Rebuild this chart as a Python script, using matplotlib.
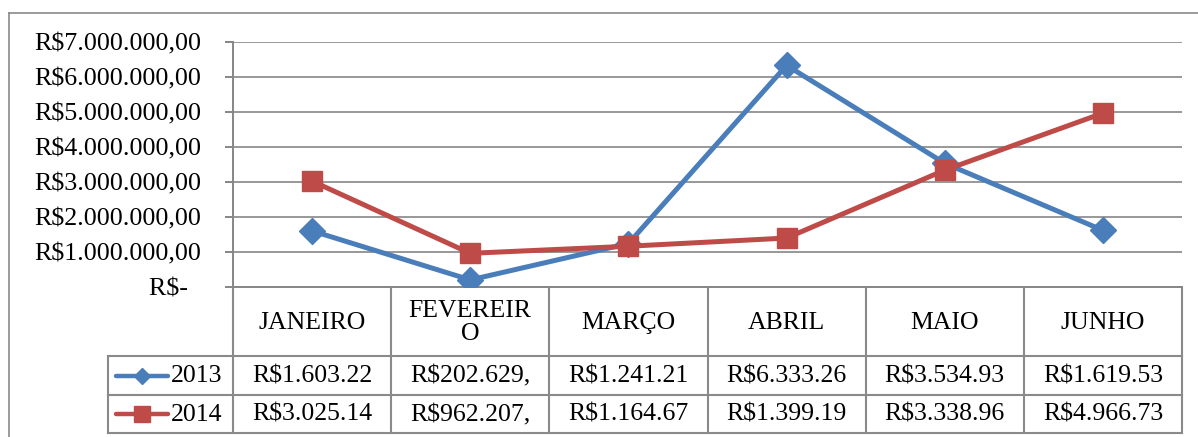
import matplotlib
matplotlib.use('Agg')
import matplotlib.pyplot as plt
from matplotlib.lines import Line2D

# ---------------- data ----------------
months = ['JANEIRO', 'FEVEREIRO', 'MARÇO', 'ABRIL', 'MAIO', 'JUNHO']
series_names = ['2013', '2014']
values_2013 = [1603220, 202629, 1241210, 6333260, 3534930, 1619530]
values_2014 = [3025140, 962207, 1164670, 1399190, 3338960, 4966730]
y_ticks = [0, 1000000, 2000000, 3000000, 4000000, 5000000, 6000000, 7000000]

# ---------------- style ----------------
plt.rcParams['font.family'] = ['Liberation Serif', 'DejaVu Serif']
BLUE = '#4A7EBB'
RED = '#BE4B48'
GRID = '#868686'
BORDER = '#8A8A8A'
TICK_FS = 18.7
TABLE_FS = 18.5

W, H = 1198, 437
fig = plt.figure(figsize=(W / 100, H / 100), dpi=100)


def px_rect(l, t, r, b):
    return [l / W, 1 - b / H, (r - l) / W, (b - t) / H]


def brl(v):
    if v == 0:
        return 'R$-  '
    s = f'{v:,.2f}'
    s = s.replace(',', '_').replace('.', ',').replace('_', '.')
    return 'R$' + s


def cell_text(v, width=10):
    return brl(v)[:width]


def wrap(label, width=8):
    if len(label) <= width:
        return label
    return label[:width] + '\n' + label[width:]


# overlay axes in pixel coordinates (for frame and table)
tax = fig.add_axes([0, 0, 1, 1], zorder=0)
tax.set_xlim(0, W)
tax.set_ylim(H, 0)
tax.axis('off')

# main plot area
ax = fig.add_axes(px_rect(233, 42, 1182, 287), zorder=2)
ax.patch.set_visible(False)
x = list(range(len(months)))
ax.plot(x, values_2013, color=BLUE, lw=3.6, marker='D', ms=13,
        solid_joinstyle='round', solid_capstyle='round', zorder=3)
ax.plot(x, values_2014, color=RED, lw=3.6, marker='s', ms=14,
        solid_joinstyle='round', solid_capstyle='round', zorder=4)
ax.set_xlim(-0.5, len(months) - 0.5)
ax.set_ylim(0, 7000000)
ax.set_yticks(y_ticks)
ax.set_yticklabels([brl(v) for v in y_ticks], fontsize=TICK_FS)
ax.tick_params(axis='y', length=6, width=1.4, color=GRID, pad=17)
ax.set_xticks([])
ax.yaxis.grid(True, color=GRID, lw=1.2)
ax.set_axisbelow(True)
for s in ['top', 'right']:
    ax.spines[s].set_visible(False)
for s in ['left', 'bottom']:
    ax.spines[s].set_color(GRID)
    ax.spines[s].set_linewidth(1.4)

# outer frame (left and top only visible)
tax.add_line(Line2D([8.5, 8.5], [12.5, H], color=BORDER, lw=1.2))
tax.add_line(Line2D([8.5, W], [12.5, 12.5], color=BORDER, lw=1.2))

# table geometry derived from axis scale
inv = tax.transData.inverted()
def xpix(v):
    return inv.transform(ax.transData.transform((v, 0)))[0]

edges = [xpix(i - 0.5) for i in range(len(months) + 1)]
centers = [xpix(i) for i in range(len(months))]
t_top, t_hdr, t_r1, t_bot = 287.5, 356, 395, 433
leg_left = 108

lw_t = 1.5
for yy in [t_hdr, t_r1, t_bot]:
    tax.add_line(Line2D([leg_left, edges[-1]], [yy, yy], color=BORDER, lw=lw_t))
tax.add_line(Line2D([leg_left, leg_left], [t_hdr, t_bot], color=BORDER, lw=lw_t))
for e in edges:
    tax.add_line(Line2D([e, e], [t_top, t_bot], color=BORDER, lw=lw_t))

# header row
for c, m in zip(centers, months):
    tax.text(c, (t_top + t_hdr) / 2 + 1, wrap(m), ha='center', va='center',
             fontsize=TABLE_FS, linespacing=1.05)

# data rows
rows = [(values_2013, BLUE, 'D', 8.5), (values_2014, RED, 's', 11.5)]
row_bounds = [(t_hdr, t_r1), (t_r1, t_bot)]
for (vals, col, mk, ms), name, (a, b) in zip(rows, series_names, row_bounds):
    yc = (a + b) / 2
    for c, v in zip(centers, vals):
        tax.text(c, yc + 1, cell_text(v), ha='center', va='center', fontsize=TABLE_FS)
    tax.add_line(Line2D([116, 168], [yc, yc], color=col, lw=3.2,
                        solid_capstyle='round'))
    tax.add_line(Line2D([142], [yc], color=col, marker=mk, ms=ms, lw=0))
    tax.text(171, yc + 1, name, ha='left', va='center', fontsize=TABLE_FS)

fig.savefig('out.png', dpi=100, facecolor='white')
